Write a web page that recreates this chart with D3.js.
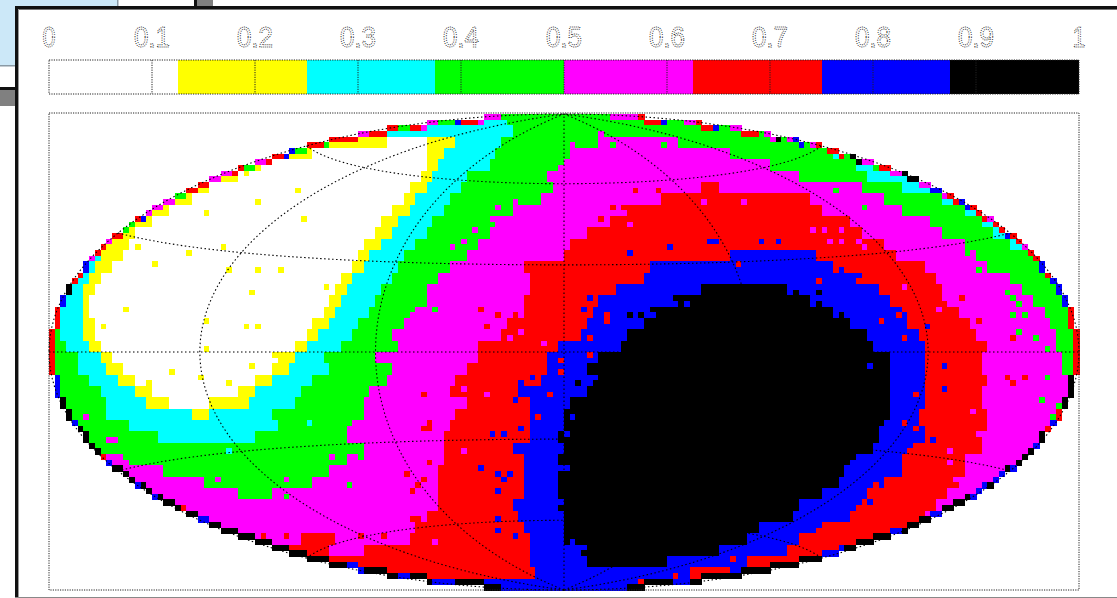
<!DOCTYPE html>
<html><head><meta charset="utf-8"><script src="https://cdn.jsdelivr.net/npm/d3@7/dist/d3.min.js"></script>
<style>html,body{margin:0;padding:0;background:#fff;overflow:hidden}svg{display:block}</style></head><body>
<svg id="c" width="1117" height="598"></svg>
<script>
const classColors=["#ffffff","#ffff00","#00ffff","#00ff00","#ff00ff","#ff0000","#0000ff","#000000"];
const tickLabels=["0","0.1","0.2","0.3","0.4","0.5","0.6","0.7","0.8","0.9","1"];
const tickValues=[0,.1,.2,.3,.4,.5,.6,.7,.8,.9,1];
const meridians=[-120,-60,0,60,120];
const parallels=[-60,-30,0,30,60];
const colCount=180,rowCount=84;
// class runs per double-row: class@endColumn
const rowRuns=[
"2@80 3@180",
"2@81 3@180",
"1@59 0@66 1@71 2@79 3@96 4@110 3@180",
"1@46 0@66 1@69 2@78 3@91 4@119 3@137 2@180",
"1@37 0@66 1@68 2@77 3@90 4@126 3@141 2@180",
"1@33 0@65 1@67 2@73 3@87 4@131 3@143 2@180",
"1@28 0@63 1@66 2@72 3@88 4@114 5@117 4@142 3@149 2@180",
"1@25 0@62 1@64 2@70 3@86 4@107 5@133 4@146 3@156 2@180",
"1@21 0@60 1@63 2@69 3@81 4@101 5@135 4@149 3@160 2@180",
"1@18 0@58 1@61 2@67 3@78 4@98 5@140 4@154 3@163 2@180",
"1@15 0@57 1@60 2@66 3@77 4@94 5@142 4@156 3@165 2@180",
"2@10 1@14 0@55 1@58 2@64 3@75 4@91 5@146 4@160 3@168 2@180",
"2@9 1@13 0@54 1@56 2@62 3@73 4@90 5@119 6@134 5@148 4@162 3@180",
"2@8 1@11 0@53 1@55 2@61 3@70 4@83 5@105 6@137 5@153 4@164 3@180",
"2@7 1@9 0@51 1@53 2@60 3@68 4@84 5@104 6@141 5@155 4@168 3@180",
"2@6 1@8 0@50 1@52 2@58 3@66 4@84 5@99 6@114 7@129 6@145 5@156 4@170 3@180",
"2@6 1@7 0@49 1@51 2@57 3@66 4@83 5@96 6@109 7@133 6@147 5@157 4@172 3@180",
"2@6 1@7 0@48 1@50 2@56 3@64 4@83 5@95 6@106 7@137 6@149 5@159 4@174 3@180",
"3@2 2@6 1@8 0@46 1@49 2@54 3@62 4@80 5@94 6@104 7@140 6@150 5@161 4@175 3@180",
"3@2 2@6 1@8 0@45 1@47 2@53 3@60 4@79 5@93 6@101 7@143 6@152 5@162 4@176 3@180",
"3@3 2@7 1@9 0@43 1@45 2@51 3@61 4@75 5@89 6@100 7@144 6@153 5@164 4@176 3@180",
"3@5 2@9 1@11 0@40 1@43 2@48 3@57 4@75 5@87 6@96 7@147 6@153 5@163 4@177 3@180",
"3@5 2@10 1@13 0@39 1@42 2@49 3@60 4@73 5@87 6@94 7@147 6@153 5@163 4@177 3@180",
"3@7 2@12 1@15 0@36 1@39 2@46 3@59 4@71 5@86 6@95 7@147 6@153 5@164 4@180",
"3@9 2@15 1@18 0@33 1@36 2@44 3@56 4@70 5@82 6@94 7@147 6@153 5@163 4@180",
"3@10 2@17 1@21 0@28 1@35 2@43 3@55 4@73 5@84 6@91 7@147 6@153 5@163 4@180",
"3@10 2@25 1@28 2@39 3@55 4@71 5@84 6@90 7@147 6@152 5@164 4@180",
"3@14 2@40 3@53 4@70 5@84 6@90 7@146 6@153 5@164 4@180",
"3@19 2@36 3@52 4@69 5@84 6@89 7@145 6@153 5@163 4@180",
"3@55 4@69 5@81 6@90 7@144 6@151 5@163 4@180",
"4@14 3@52 4@69 5@83 6@89 7@141 6@149 5@160 4@180",
"4@20 3@49 4@68 5@83 6@89 7@139 6@149 5@160 4@180",
"4@27 3@46 4@68 5@83 6@89 7@138 6@146 5@159 4@180",
"4@33 3@39 4@68 5@83 6@89 7@135 6@143 5@157 4@180",
"4@68 5@81 6@89 7@131 6@142 5@155 4@180",
"4@66 5@82 6@90 7@130 6@140 5@153 4@180",
"4@64 5@83 6@90 7@124 6@135 5@180",
"4@44 5@50 4@63 5@84 6@90 7@122 6@131 5@180",
"5@49 4@55 5@84 6@93 7@117 6@129 5@180",
"5@84 6@94 7@108 6@122 5@180",
"5@85 6@112 5@119 6@180",
"6@180"];
const rimTopRuns="5@2 6@3 7@4 5@6 6@7 4@8 5@10 4@11 5@13 3@15 5@16 6@17 4@22 3@24 5@28 4@32 5@34 3@36 4@38 5@41 6@43 3@45 5@48 3@49 5@54 4@56 5@61 3@63 5@65 4@68 3@71 6@72 5@75 4@79 3@98 4@103 5@107 6@108 3@111 4@113 5@116 6@117 3@119 4@121 5@124 3@125 4@127 7@128 3@129 4@130 6@132 3@133 4@134 5@135 3@136 5@139 3@140 7@142 4@144 3@145 5@147 4@149 7@152 4@154 6@156 4@157 5@159 6@161 5@164 4@165 5@167 6@168 5@170 4@171 5@173 6@174 5@175 6@178 5@180";
const rimBottomRuns="5@1 6@2 7@4 6@5 7@9 5@10 6@11 7@15 6@16 7@18 6@19 7@23 5@24 7@26 6@28 7@52 6@55 7@61 6@63 7@67 6@71 7@79 6@101 7@109 6@112 7@135 6@139 7@147 6@149 7@154 6@156 7@161 6@164 7@165 6@167 7@168 6@169 7@172 6@173 7@174 5@175 6@176 5@177 7@179 5@180";
// isolated cells per class: column,row
const speckYellow="43,13 36,15 27,17 44,18 34,10 15,23 24,24 30,23 18,26 31,27 36,27 40,27 48,30 35,31 13,34 27,36 9,37 34,37 36,37 27,41 39,42 35,44 21,45 17,47 26,46 31,47";
const speckCyan="45,54 31,59";
const speckGreen="67,34 98,5 107,5 137,13 142,16 160,24 162,27 167,31 168,32 169,33 168,35 170,35 169,38 172,39 174,41 174,46 173,50 176,51 175,53 174,57 13,60 52,65 41,67 54,60";
const speckMagenta="64,35 63,35 78,16 81,15 77,18 77,20 74,20 72,22 70,23 89,9 91,5 96,3 100,4 121,15 114,15 101,19 82,38 80,39 86,40 76,49 72,48 72,59 67,75 133,20 135,20 136,22 141,22 138,22 142,23 138,20 149,30 159,35 155,34 156,32 157,59 157,61 158,64 160,60 161,52 162,56 6,53 10,57 11,57 52,55 49,60 29,64 41,64";
const speckRed="102,13 106,13 98,16 100,16 96,18 94,20 120,26 75,34 78,35 81,35 76,37 65,49 66,54 65,55 97,35 97,36 94,39 94,42 89,43 89,45 87,49 85,53 62,63 65,64 63,66 66,61 63,71 103,82 105,82 108,82 109,81 119,78 159,32 162,36 168,39 167,46 170,46 168,47 134,29 149,39 145,36 148,35 151,49 149,54 151,55 152,54 144,65 146,64 150,59 141,69 134,73 135,74 66,55 64,65 44,74 37,74 41,74 54,74 58,74 64,71 64,73";
const speckBlue="101,24 108,23 124,22 127,22 115,22 116,22 94,32 93,34 84,46 82,47 81,50 77,56 79,56 82,55 75,62 78,63 79,64 80,63 78,66 78,71 78,73 81,74 138,27 141,28 142,30 146,34 149,35 153,37 151,40 156,44 156,48 154,57 143,68 95,46 91,53 90,56 111,33 109,33 89,62 90,62 88,66 89,68 91,75 93,76 145,55 140,61 137,66 131,70 143,44";
const speckBlack="101,35 103,35 105,34 92,47 130,31 134,31 134,33 136,34 138,35";
const speckles=[[1,speckYellow],[2,speckCyan],[3,speckGreen],[4,speckMagenta],[5,speckRed],[6,speckBlue],[7,speckBlack]];

const parseRuns=s=>s.split(" ").map(t=>t.split("@").map(Number));
const classAt=(runs,c)=>{for(const [k,e] of runs) if(c<e) return k; return runs[runs.length-1][0];};
const coarse=rowRuns.map(parseRuns), rimTop=parseRuns(rimTopRuns), rimBottom=parseRuns(rimBottomRuns);
const inside=(c,r)=>c>=0&&c<colCount&&r>=0&&r<rowCount&&((c+.5-90)/90)**2+((r+.5-42)/42)**2<=1;
const speckMap=new Map();
speckles.forEach(([k,s])=>s.split(" ").forEach(p=>speckMap.set(p,k)));
const cells=[];
for(let r=0;r<rowCount;r++)for(let c=0;c<colCount;c++){
  if(!inside(c,r))continue;
  let k=classAt(coarse[Math.floor(r/2)],c);
  if(speckMap.has(c+","+r))k=speckMap.get(c+","+r);
  if(!inside(c-1,r)||!inside(c+1,r)||!inside(c,r-1)||!inside(c,r+1))k=classAt(r<42?rimTop:rimBottom,c);
  cells.push({c,r,k});
}
const svg=d3.select("#c");
// surrounding window chrome
const chrome=svg.append("g");
[[0,0,117,65,"#cce8f8"],[117,0,1.5,6,"#8a9aa5"],[0,65,15,1.5,"#8a9aa5"],[0,87,15,3,"#111"],[0,90,15,16,"#808080"],
 [194,0,3,7,"#111"],[197,0,16,7,"#808080"],[15,6,1102,592,"#fff"],[15,6,1102,3,"#111"],[15,9,1102,1,"#777"],[15,6,3,592,"#111"],[18,9,1,589,"#999"],[15,597,1102,1,"#888"]]
 .forEach(d=>chrome.append("rect").attr("x",d[0]).attr("y",d[1]).attr("width",d[2]).attr("height",d[3]).attr("fill",d[4]));

const x=d3.scaleBand().domain(d3.range(colCount)).range([49,1079]).paddingInner(0);
const y=d3.scaleBand().domain(d3.range(rowCount)).range([114,590]).paddingInner(0);
svg.append("g").attr("shape-rendering","crispEdges").selectAll("rect").data(cells).join("rect")
 .attr("x",d=>x(d.c)).attr("y",d=>y(d.r)).attr("width",x.bandwidth()+.6).attr("height",y.bandwidth()+.6)
 .attr("fill",d=>classColors[d.k]);

// Hammer-Aitoff graticule
const rad=Math.PI/180, R2=Math.SQRT2;
const hammer=([lon,lat])=>{const l=lon*rad/2,p=lat*rad,d=Math.sqrt(1+Math.cos(p)*Math.cos(l));
  return [2*R2*Math.cos(p)*Math.sin(l)/d,R2*Math.sin(p)/d];};
const px=d3.scaleLinear().domain([-2*R2,2*R2]).range([49,1079]);
const py=d3.scaleLinear().domain([R2,-R2]).range([114,590]);
const line=d3.line().x(d=>px(hammer(d)[0])).y(d=>py(hammer(d)[1]));
const latSteps=d3.range(-90,90.5,2), lonSteps=d3.range(-180,180.5,2);
const gg=svg.append("g").attr("fill","none").attr("stroke","#000").attr("stroke-width",1.1).attr("stroke-dasharray","1.5 2.5");
meridians.forEach(m=>gg.append("path").attr("d",line(latSteps.map(p=>[m,p]))));
parallels.forEach(p=>gg.append("path").attr("d",line(lonSteps.map(l=>[l,p]))));
[-180,180].forEach(m=>gg.append("path").attr("d",line(latSteps.map(p=>[m,p]))));

// map frame
svg.append("rect").attr("x",49).attr("y",113).attr("width",1030).attr("height",477).attr("fill","none")
 .attr("stroke","#222").attr("stroke-dasharray","1.2 1.2");

// colour bar
const bar=d3.scaleLinear().domain([0,1]).range([49,1079]);
const barG=svg.append("g");
barG.selectAll("rect").data(classColors).join("rect").attr("x",(d,i)=>bar(i/8)).attr("y",60)
 .attr("width",bar(.125)-bar(0)).attr("height",34).attr("fill",d=>d).attr("shape-rendering","crispEdges");
barG.selectAll("line").data(tickValues.slice(1,-1)).join("line").attr("x1",d=>bar(d)).attr("x2",d=>bar(d)).attr("y1",60).attr("y2",94)
 .attr("stroke","#222").attr("stroke-dasharray","1.2 1.2");
barG.append("rect").attr("x",49).attr("y",60).attr("width",1030).attr("height",34).attr("fill","none")
 .attr("stroke","#222").attr("stroke-dasharray","1.2 1.2");
svg.append("g").selectAll("text").data(tickLabels).join("text")
 .attr("x",(d,i)=>bar(tickValues[i])).attr("y",47).attr("text-anchor","middle")
 .attr("font-family","Liberation Sans").attr("font-size",30)
 .attr("textLength",d=>d.length>1?36:13).attr("lengthAdjust","spacingAndGlyphs")
 .attr("fill","none").attr("stroke","#222").attr("stroke-width",1).attr("stroke-dasharray","1 1.3")
 .text(d=>d);
</script></body></html>
